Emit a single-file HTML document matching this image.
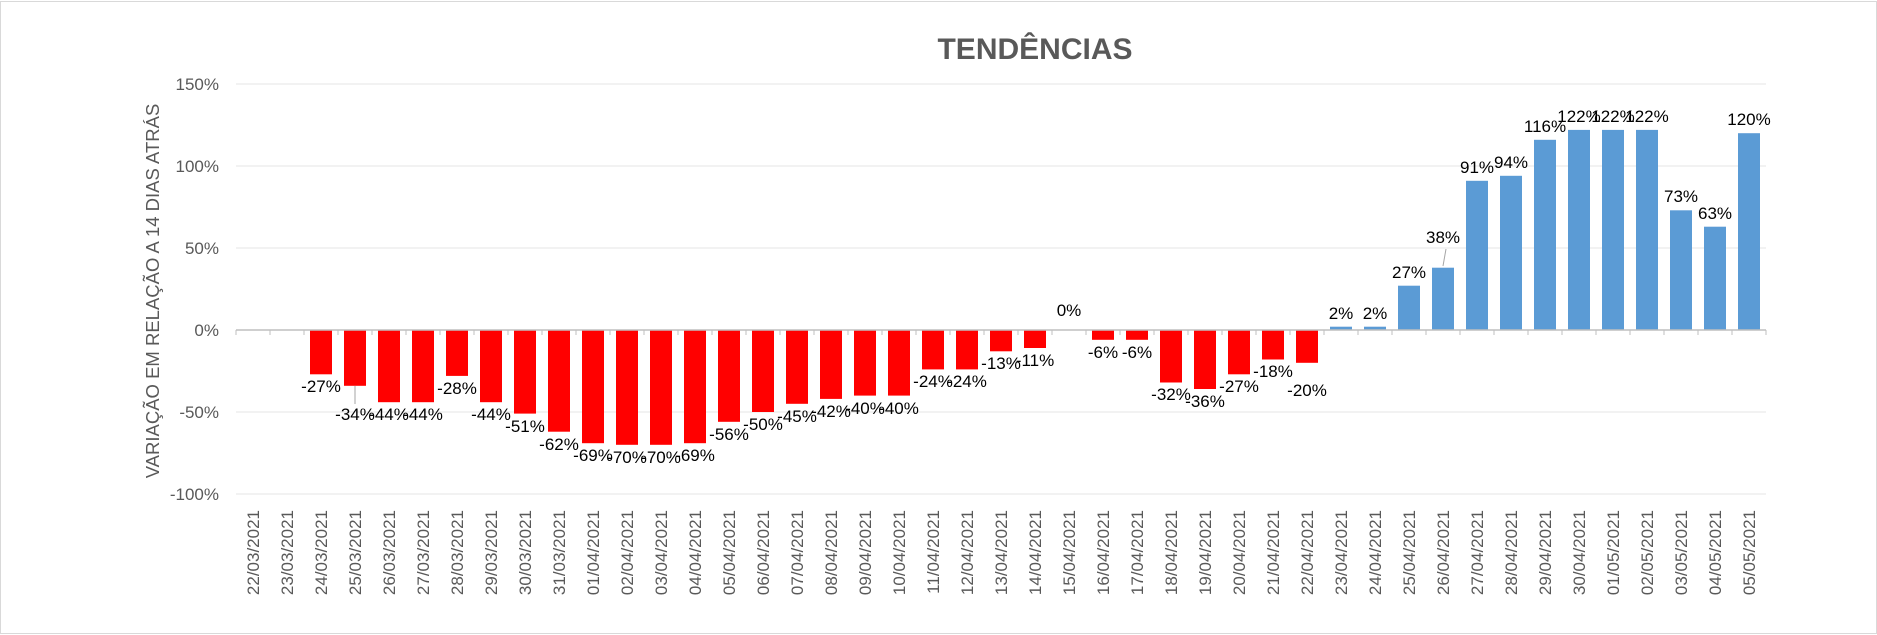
<!DOCTYPE html>
<html><head><meta charset="utf-8"><style>
html,body{margin:0;padding:0;background:#fff}
svg{display:block}
</style></head><body>
<svg width="1877" height="635" xmlns="http://www.w3.org/2000/svg" font-family="Liberation Sans, sans-serif">
<rect x="0.5" y="1.5" width="1876" height="632" fill="#fff" stroke="#d9d9d9"/>
<text x="1035" y="59" text-anchor="middle" font-size="30" font-weight="bold" fill="#595959" font-family="Liberation Sans Narrow, Liberation Sans, sans-serif">TENDÊNCIAS</text>
<g stroke="#eeeeee" stroke-width="1.5">
<line x1="236" x2="1766" y1="84" y2="84"/>
<line x1="236" x2="1766" y1="166" y2="166"/>
<line x1="236" x2="1766" y1="248" y2="248"/>
<line x1="236" x2="1766" y1="412" y2="412"/>
<line x1="236" x2="1766" y1="494" y2="494"/>
</g>
<g font-size="17" fill="#595959" text-anchor="end">
<text x="219" y="90">150%</text>
<text x="219" y="172">100%</text>
<text x="219" y="254">50%</text>
<text x="219" y="336">0%</text>
<text x="219" y="418">-50%</text>
<text x="219" y="500">-100%</text>
</g>
<text transform="translate(159,291) rotate(-90)" text-anchor="middle" font-size="18.5" fill="#595959">VARIAÇÃO EM RELAÇÃO A 14 DIAS ATRÁS</text>

<g fill="#ff0000">
<rect x="310" y="330" width="22" height="44.3"/>
<rect x="344" y="330" width="22" height="55.8"/>
<rect x="378" y="330" width="22" height="72.2"/>
<rect x="412" y="330" width="22" height="72.2"/>
<rect x="446" y="330" width="22" height="45.9"/>
<rect x="480" y="330" width="22" height="72.2"/>
<rect x="514" y="330" width="22" height="83.6"/>
<rect x="548" y="330" width="22" height="101.7"/>
<rect x="582" y="330" width="22" height="113.2"/>
<rect x="616" y="330" width="22" height="114.8"/>
<rect x="650" y="330" width="22" height="114.8"/>
<rect x="684" y="330" width="22" height="113.2"/>
<rect x="718" y="330" width="22" height="91.8"/>
<rect x="752" y="330" width="22" height="82"/>
<rect x="786" y="330" width="22" height="73.8"/>
<rect x="820" y="330" width="22" height="68.9"/>
<rect x="854" y="330" width="22" height="65.6"/>
<rect x="888" y="330" width="22" height="65.6"/>
<rect x="922" y="330" width="22" height="39.4"/>
<rect x="956" y="330" width="22" height="39.4"/>
<rect x="990" y="330" width="22" height="21.3"/>
<rect x="1024" y="330" width="22" height="18"/>
<rect x="1092" y="330" width="22" height="9.8"/>
<rect x="1126" y="330" width="22" height="9.8"/>
<rect x="1160" y="330" width="22" height="52.5"/>
<rect x="1194" y="330" width="22" height="59"/>
<rect x="1228" y="330" width="22" height="44.3"/>
<rect x="1262" y="330" width="22" height="29.5"/>
<rect x="1296" y="330" width="22" height="32.8"/>
</g>
<g fill="#5b9bd5">
<rect x="1330" y="326.7" width="22" height="3.3"/>
<rect x="1364" y="326.7" width="22" height="3.3"/>
<rect x="1398" y="285.7" width="22" height="44.3"/>
<rect x="1432" y="267.7" width="22" height="62.3"/>
<rect x="1466" y="180.8" width="22" height="149.2"/>
<rect x="1500" y="175.8" width="22" height="154.2"/>
<rect x="1534" y="139.8" width="22" height="190.2"/>
<rect x="1568" y="129.9" width="22" height="200.1"/>
<rect x="1602" y="129.9" width="22" height="200.1"/>
<rect x="1636" y="129.9" width="22" height="200.1"/>
<rect x="1670" y="210.3" width="22" height="119.7"/>
<rect x="1704" y="226.7" width="22" height="103.3"/>
<rect x="1738" y="133.2" width="22" height="196.8"/>
</g>

<g font-size="17" fill="#000" text-anchor="middle">
<text x="321" y="392">-27%</text>
<text x="355" y="420">-34%</text>
<text x="389" y="420">-44%</text>
<text x="423" y="420">-44%</text>
<text x="457" y="394">-28%</text>
<text x="491" y="420">-44%</text>
<text x="525" y="432">-51%</text>
<text x="559" y="450">-62%</text>
<text x="593" y="461">-69%</text>
<text x="627" y="463">-70%</text>
<text x="661" y="463">-70%</text>
<text x="695" y="461">-69%</text>
<text x="729" y="440">-56%</text>
<text x="763" y="430">-50%</text>
<text x="797" y="422">-45%</text>
<text x="831" y="417">-42%</text>
<text x="865" y="414">-40%</text>
<text x="899" y="414">-40%</text>
<text x="933" y="387">-24%</text>
<text x="967" y="387">-24%</text>
<text x="1001" y="369">-13%</text>
<text x="1035" y="366">-11%</text>
<text x="1069" y="316">0%</text>
<text x="1103" y="358">-6%</text>
<text x="1137" y="358">-6%</text>
<text x="1171" y="400">-32%</text>
<text x="1205" y="407">-36%</text>
<text x="1239" y="392">-27%</text>
<text x="1273" y="377">-18%</text>
<text x="1307" y="396">-20%</text>
<text x="1341" y="319">2%</text>
<text x="1375" y="319">2%</text>
<text x="1409" y="278">27%</text>
<text x="1443" y="243">38%</text>
<text x="1477" y="173">91%</text>
<text x="1511" y="168">94%</text>
<text x="1545" y="132">116%</text>
<text x="1579" y="122">122%</text>
<text x="1613" y="122">122%</text>
<text x="1647" y="122">122%</text>
<text x="1681" y="202">73%</text>
<text x="1715" y="219">63%</text>
<text x="1749" y="125">120%</text>
</g>
<line x1="355" y1="386" x2="355" y2="404" stroke="#a6a6a6"/>
<line x1="1443" y1="266" x2="1446" y2="249" stroke="#a6a6a6"/>

<g font-size="17" fill="#595959" text-anchor="end">
<text transform="translate(259,510) rotate(-90)">22/03/2021</text>
<text transform="translate(293,510) rotate(-90)">23/03/2021</text>
<text transform="translate(327,510) rotate(-90)">24/03/2021</text>
<text transform="translate(361,510) rotate(-90)">25/03/2021</text>
<text transform="translate(395,510) rotate(-90)">26/03/2021</text>
<text transform="translate(429,510) rotate(-90)">27/03/2021</text>
<text transform="translate(463,510) rotate(-90)">28/03/2021</text>
<text transform="translate(497,510) rotate(-90)">29/03/2021</text>
<text transform="translate(531,510) rotate(-90)">30/03/2021</text>
<text transform="translate(565,510) rotate(-90)">31/03/2021</text>
<text transform="translate(599,510) rotate(-90)">01/04/2021</text>
<text transform="translate(633,510) rotate(-90)">02/04/2021</text>
<text transform="translate(667,510) rotate(-90)">03/04/2021</text>
<text transform="translate(701,510) rotate(-90)">04/04/2021</text>
<text transform="translate(735,510) rotate(-90)">05/04/2021</text>
<text transform="translate(769,510) rotate(-90)">06/04/2021</text>
<text transform="translate(803,510) rotate(-90)">07/04/2021</text>
<text transform="translate(837,510) rotate(-90)">08/04/2021</text>
<text transform="translate(871,510) rotate(-90)">09/04/2021</text>
<text transform="translate(905,510) rotate(-90)">10/04/2021</text>
<text transform="translate(939,510) rotate(-90)">11/04/2021</text>
<text transform="translate(973,510) rotate(-90)">12/04/2021</text>
<text transform="translate(1007,510) rotate(-90)">13/04/2021</text>
<text transform="translate(1041,510) rotate(-90)">14/04/2021</text>
<text transform="translate(1075,510) rotate(-90)">15/04/2021</text>
<text transform="translate(1109,510) rotate(-90)">16/04/2021</text>
<text transform="translate(1143,510) rotate(-90)">17/04/2021</text>
<text transform="translate(1177,510) rotate(-90)">18/04/2021</text>
<text transform="translate(1211,510) rotate(-90)">19/04/2021</text>
<text transform="translate(1245,510) rotate(-90)">20/04/2021</text>
<text transform="translate(1279,510) rotate(-90)">21/04/2021</text>
<text transform="translate(1313,510) rotate(-90)">22/04/2021</text>
<text transform="translate(1347,510) rotate(-90)">23/04/2021</text>
<text transform="translate(1381,510) rotate(-90)">24/04/2021</text>
<text transform="translate(1415,510) rotate(-90)">25/04/2021</text>
<text transform="translate(1449,510) rotate(-90)">26/04/2021</text>
<text transform="translate(1483,510) rotate(-90)">27/04/2021</text>
<text transform="translate(1517,510) rotate(-90)">28/04/2021</text>
<text transform="translate(1551,510) rotate(-90)">29/04/2021</text>
<text transform="translate(1585,510) rotate(-90)">30/04/2021</text>
<text transform="translate(1619,510) rotate(-90)">01/05/2021</text>
<text transform="translate(1653,510) rotate(-90)">02/05/2021</text>
<text transform="translate(1687,510) rotate(-90)">03/05/2021</text>
<text transform="translate(1721,510) rotate(-90)">04/05/2021</text>
<text transform="translate(1755,510) rotate(-90)">05/05/2021</text>
</g>

<line x1="236" x2="1766" y1="330" y2="330" stroke="#bfbfbf" stroke-width="1.5"/>
<path d="M236 330v5M270 330v5M304 330v5M338 330v5M372 330v5M406 330v5M440 330v5M474 330v5M508 330v5M542 330v5M576 330v5M610 330v5M644 330v5M678 330v5M712 330v5M746 330v5M780 330v5M814 330v5M848 330v5M882 330v5M916 330v5M950 330v5M984 330v5M1018 330v5M1052 330v5M1086 330v5M1120 330v5M1154 330v5M1188 330v5M1222 330v5M1256 330v5M1290 330v5M1324 330v5M1358 330v5M1392 330v5M1426 330v5M1460 330v5M1494 330v5M1528 330v5M1562 330v5M1596 330v5M1630 330v5M1664 330v5M1698 330v5M1732 330v5M1766 330v5" stroke="#bfbfbf"/>
</svg>
</body></html>
